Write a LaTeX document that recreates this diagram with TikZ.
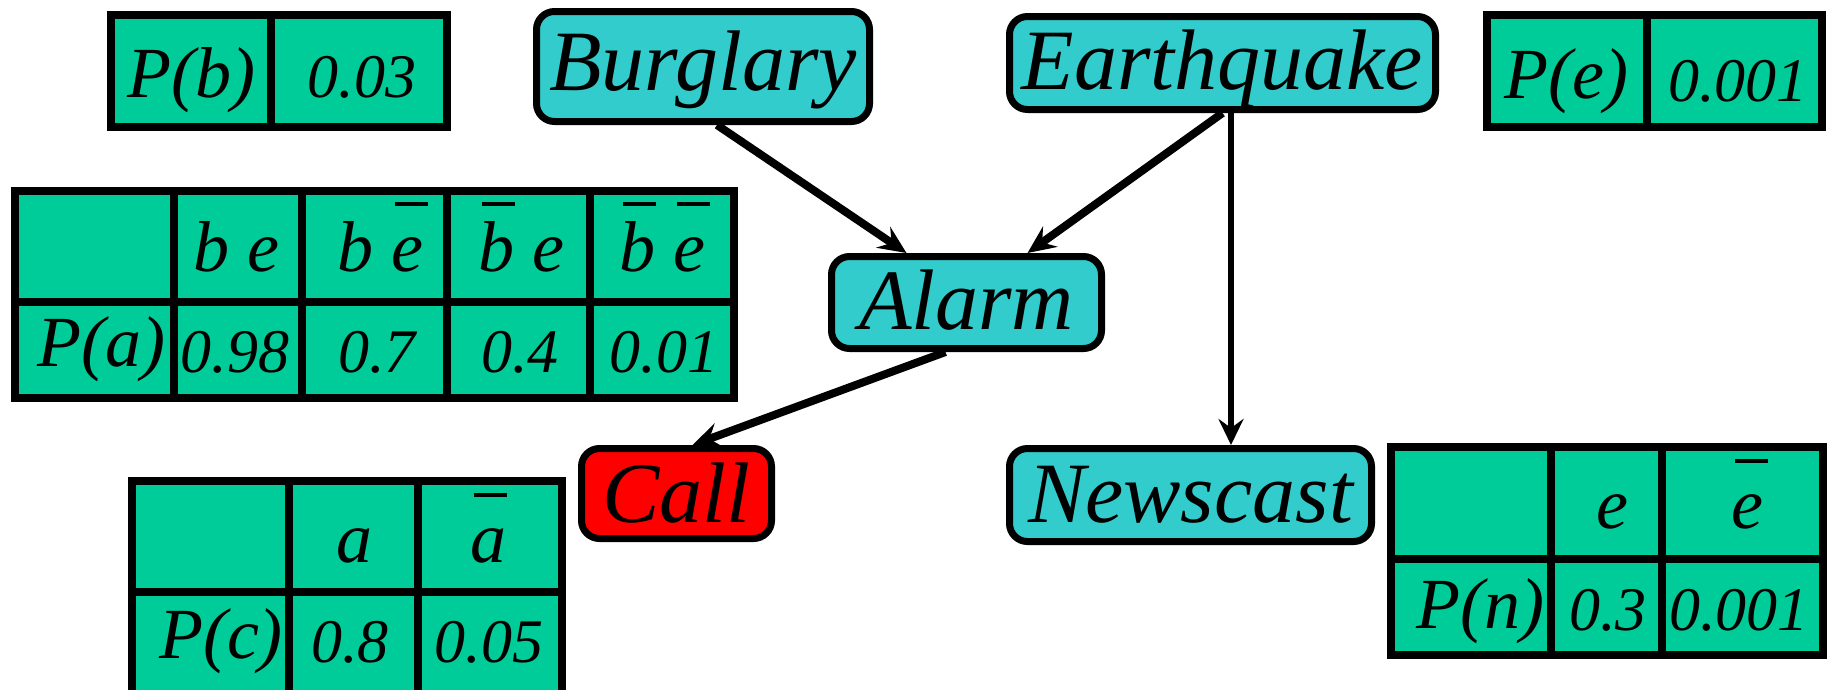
\documentclass[tikz,border=0pt]{standalone}
\usepackage{fontspec}
\setmainfont{Liberation Serif}
\usetikzlibrary{arrows.meta}
\definecolor{boxcyan}{HTML}{33CCCC}
\definecolor{tabgreen}{HTML}{00CC99}
\definecolor{callred}{HTML}{FF0000}
\newcommand{\obar}[1]{\makebox[0pt][l]{\hspace{0.05em}\rule[0.9em]{0.47em}{0.055em}}#1}
\begin{document}
\begin{tikzpicture}[x=1pt,y=-1pt,
  vbox/.style={draw=black, line width=7pt, rounded corners=18pt, fill=boxcyan, inner sep=0pt,
    text height=62pt, font=\fontsize{86}{90}\selectfont\itshape},
  tabframe/.style={draw=black, line width=8.5pt, fill=tabgreen},
  tabline/.style={draw=black, line width=8pt},
  lab/.style={anchor=base, inner sep=0pt, font=\fontsize{72}{80}\selectfont\itshape},
  num/.style={anchor=base, inner sep=0pt, font=\fontsize{62}{70}\selectfont\itshape},
  edge/.style={draw=black, line width=8pt, -{Stealth[length=28pt,width=25pt,inset=10pt]}},
  thinedge/.style={draw=black, line width=6.5pt, -{Stealth[length=26pt,width=25pt,inset=9pt]}},
]
\useasboundingbox (0,0) rectangle (1831,689);

% ---- P(b) table
\draw[tabframe] (111,15) rectangle (447,127);
\draw[tabline] (271,15) -- (271,127);
\node[lab] (pbl) at (191,97) {P(b)};
\node[num] (pbv) at (362,97) {0.03};

% ---- P(e) table
\draw[tabframe] (1487,15) rectangle (1822,127);
\draw[tabline] (1647,15) -- (1647,127);
\node[lab] (pel) at (1566,98) {P(e)};
\node[num] (pev) at (1738,101) {0.001};

% ---- P(a) table
\draw[tabframe] (15,191) rectangle (734,398);
\draw[tabline] (15,302) -- (734,302);
\foreach \cx in {174,302,447,590} \draw[tabline] (\cx,191) -- (\cx,398);
\node[lab] (ah1) at (236,271) {b e};
\node[lab] (ah2) at (380,271) {b \obar{e}};
\node[lab] (ah3) at (521,271) {\obar{b} e};
\node[lab] (ah4) at (662,271) {\obar{b} \obar{e}};
\node[lab] (pal) at (101,366) {P(a)};
\node[num] (av1) at (235,372) {0.98};
\node[num] (av2) at (377,372) {0.7};
\node[num] (av3) at (520,372) {0.4};
\node[num] (av4) at (664,372) {0.01};

% ---- P(c) table
\draw[tabframe] (132,481) rectangle (562,720);
\draw[tabline] (132,592) -- (562,592);
\foreach \cx in {289,418} \draw[tabline] (\cx,481) -- (\cx,720);
\node[lab] (ch1) at (354,562) {a};
\node[lab] (ch2) at (488,562) {\obar{a}};
\node[lab] (pcl) at (221,658) {P(c)};
\node[num] (cv1) at (350,662) {0.8};
\node[num] (cv2) at (489,662) {0.05};

% ---- P(n) table
\draw[tabframe] (1391,447) rectangle (1823,655);
\draw[tabline] (1391,559) -- (1823,559);
\foreach \cx in {1551,1662} \draw[tabline] (\cx,447) -- (\cx,655);
\node[lab] (nh1) at (1612,528) {e};
\node[lab] (nh2) at (1747,528) {\obar{e}};
\node[lab] (pnl) at (1480,628) {P(n)};
\node[num] (nv1) at (1608,630) {0.3};
\node[num] (nv2) at (1739,630) {0.001};

% ---- variable nodes
\node[vbox, text depth=15pt, minimum width=333pt, minimum height=110pt] (burg) at (703,66.5) {Burglary};
\node[vbox, text depth=10pt, minimum width=426pt, minimum height=93pt] (eq) at (1222.5,63) {Earthquake};
\node[vbox, text depth=9pt, minimum width=270pt, minimum height=92pt] (alarm) at (966.5,302.5) {Alarm};
\node[vbox, text depth=5pt, fill=callred, minimum width=190pt, minimum height=90pt] (call) at (676.5,493.5) {Call};
\node[vbox, text depth=8pt, minimum width=362pt, minimum height=93pt] (news) at (1190.5,495) {Newscast};

% ---- connectors
\draw[edge] ([xshift=14pt]burg.south) -- ([xshift=-60pt]alarm.north);
\draw[edge] (eq.south) -- ([xshift=61pt]alarm.north);
\draw[thinedge] ([xshift=8.5pt]eq.south) -- ([xshift=40.5pt]news.north);
\draw[edge] ([xshift=-21pt]alarm.south) -- ([xshift=16pt]call.north);
\end{tikzpicture}
\end{document}
